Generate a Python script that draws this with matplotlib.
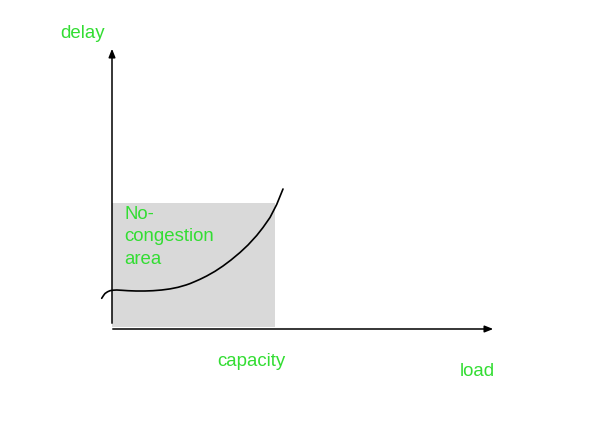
import matplotlib
matplotlib.use("Agg")
import matplotlib.pyplot as plt
from matplotlib.patches import Rectangle

# Curve points (pixel-space diagram coordinates)
curve_x = [101.7, 103.5, 105, 107.5, 110, 113, 116.7, 122, 128, 136, 145, 153, 161.7, 170, 178,
           186, 190, 195, 200, 206.7, 215, 223, 231, 240, 248, 256.7, 263, 270, 276.7, 283]
curve_y = [298.3, 295.5, 293.5, 291.8, 290.7, 290.2, 290, 290.3, 290.7, 291, 291, 290.7, 290, 288.9, 287.3,
           285, 283.6, 281.5, 279.3, 276, 271.3, 266, 260, 252.5, 245, 235.5, 227.5, 217.5, 204.5, 189]

labels = {"y": "delay", "x": "load", "cap": "capacity", "area": "No-\ncongestion\narea"}

green = "#33dd33"
plt.rcParams['font.family'] = ['Liberation Sans', 'DejaVu Sans']

fig = plt.figure(figsize=(5.96, 4.47), dpi=100)
ax = fig.add_axes([0, 0, 1, 1])
ax.set_xlim(0, 596)
ax.set_ylim(447, 0)
ax.axis('off')

# No-congestion area
ax.add_patch(Rectangle((112, 203), 163, 124, facecolor="#d9d9d9", edgecolor="none", zorder=1))

# Axes arrows
ax.annotate("", xy=(112, 46), xytext=(112, 326),
            arrowprops=dict(arrowstyle="-|>,head_length=0.5,head_width=0.2", color="black", lw=1.1), zorder=3)
ax.annotate("", xy=(496, 329), xytext=(110, 329),
            arrowprops=dict(arrowstyle="-|>,head_length=0.5,head_width=0.2", color="black", lw=1.1), zorder=3)

# Curve
ax.plot(curve_x, curve_y, color="black", lw=1.2, zorder=4, solid_capstyle="round", solid_joinstyle="round")

# Texts
fs = 13.4
ax.text(60, 33, labels["y"], color=green, fontsize=fs, va="center", ha="left")
ax.text(460, 372, labels["x"], color=green, fontsize=fs, va="center", ha="left")
ax.text(217, 361, labels["cap"], color=green, fontsize=fs, va="center", ha="left")
ax.text(124, 206, labels["area"], color=green, fontsize=fs, va="top", ha="left", linespacing=1.42, zorder=5)

fig.savefig("out.png", dpi=100)
